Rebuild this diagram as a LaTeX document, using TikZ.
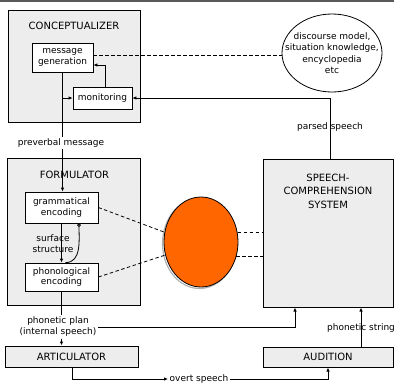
\documentclass[tikz,border=0pt]{standalone}
\usepackage{fontspec}
\setmainfont{DejaVu Sans}
\usetikzlibrary{arrows.meta,shapes.geometric}
\definecolor{blobfill}{HTML}{FF6600}
\definecolor{panelfill}{HTML}{EDEDED}

\begin{document}
\begin{tikzpicture}[
  x=1pt, y=-1pt,
  panel/.style={
    draw,
    fill=panelfill,
    line width=1pt,
    inner sep=0pt
  },
  unit/.style={
    draw,
    fill=white,
    line width=0.8pt,
    align=center,
    inner sep=0pt,
    font=\fontsize{9}{10.5}\selectfont
  },
  heading/.style={font=\fontsize{10}{13.5}\selectfont, align=center, inner sep=0pt},
  lbl/.style={align=center, inner sep=1.5pt, font=\fontsize{9}{11}\selectfont},
  conn/.style={line width=0.8pt, -{Latex[length=4pt,width=3.5pt]}},
  dashconn/.style={line width=0.8pt, dash pattern=on 3.5pt off 2.5pt}
]
\useasboundingbox (0,0) rectangle (394,384);
\draw[gray!70!black, line width=2.5pt] (0,1) -- (394,1);

% conceptualizer
\node[panel, minimum width=132pt, minimum height=112pt] (concept) at (74,66) {};
\node[heading] at (74,26) {CONCEPTUALIZER};
\node[unit, minimum width=61pt, minimum height=29pt] (msggen) at (62.5,57.5) {message\\generation};
\node[unit, minimum width=59pt, minimum height=22pt] (monitor) at (102.5,98) {monitoring};

\node[draw, ellipse, line width=0.8pt, minimum width=100pt, minimum height=78pt, inner sep=0pt] (knowledge) at (332,53) {};
\node[lbl, font=\fontsize{9}{11.5}\selectfont] at (knowledge) {discourse model,\\situation knowledge,\\encyclopedia\\etc};

% formulator
\node[panel, minimum width=133pt, minimum height=147pt] (formul) at (73.5,231.5) {};
\node[heading] at (74.5,175) {FORMULATOR};
\node[unit, minimum width=73pt, minimum height=31pt] (gram) at (61.5,207.5) {grammatical\\encoding};
\node[unit, minimum width=73pt, minimum height=28pt] (phon) at (61.5,277) {phonological\\encoding};

% speech comprehension
\node[panel, minimum width=130pt, minimum height=148pt] (scs) at (328,233) {};
\node[heading] at (328,191) {SPEECH-\\COMPREHENSION\\SYSTEM};

\node[panel, minimum width=133pt, minimum height=21pt, font=\fontsize{10}{12}\selectfont] (artic) at (71.5,356.5) {ARTICULATOR};
\node[panel, minimum width=130pt, minimum height=20pt, font=\fontsize{10}{12}\selectfont] (audition) at (328,357) {AUDITION};

% the orange blob
\node[ellipse, draw=gray!60, line width=1.2pt, minimum width=74pt, minimum height=90pt] at (199.5,243.5) {};
\node[ellipse, draw, fill=blobfill, line width=0.8pt, minimum width=74pt, minimum height=90pt, inner sep=0pt] (blob) at (201,242) {};

% labels
\node[lbl] (preverbal) at (61,143) {preverbal message};
\node[lbl] (parsed) at (330,127) {parsed speech};
\node[lbl, fill=panelfill] (surface) at (53,244) {surface\\structure};
\node[lbl, fill=white] (plan) at (58,327) {phonetic plan\\(internal speech)};
\node[lbl, fill=white] (string) at (361,328) {phonetic string};
\node[lbl] (overt) at (199,379) {overt speech};

% connectors
\draw[dashconn] (msggen.east |- 0,55) -- (knowledge.west |- 0,55);
\draw[conn] ([xshift=2.5pt]monitor.north) |- ([yshift=-7.5pt]msggen.east);
\draw[conn] ([xshift=2pt]scs.north) |- (monitor.east);
\draw[line width=0.8pt] (msggen.south) -- (msggen.south |- preverbal.north);
\draw[conn] (msggen.south |- monitor.west) -- (monitor.west);
\draw[conn] (preverbal.south -| msggen.south) -- (msggen.south |- gram.north);
\draw[conn] (gram.south) -- (phon.north);
\draw[line width=0.8pt, -{Circle[open,length=3.5pt]}] ([xshift=4pt]phon.north) to[out=0,in=-90] ([xshift=17.5pt]gram.south);
\draw[dashconn] (gram.east) -- (blob.165);
\draw[dashconn] (phon.east) -- (blob.200);
\draw[dashconn] (blob.15) -- (blob.15 -| scs.west);
\draw[dashconn] (blob.-22) -- (blob.-22 -| scs.west);
\draw[line width=0.8pt] (phon.south) -- (phon.south |- plan.north);
\draw[conn] (plan.south -| phon.south) -- (phon.south |- artic.north);
\draw[conn] (plan.east) -| ([xshift=-33pt]scs.south);
\draw[conn] ([xshift=33pt]audition.north) -- ([xshift=33pt]audition.north |- scs.south);
\draw[conn] ([xshift=0.5pt]artic.south) |- (overt.west);
\draw[conn] (overt.east) -| (audition.south);
\end{tikzpicture}
\end{document}
